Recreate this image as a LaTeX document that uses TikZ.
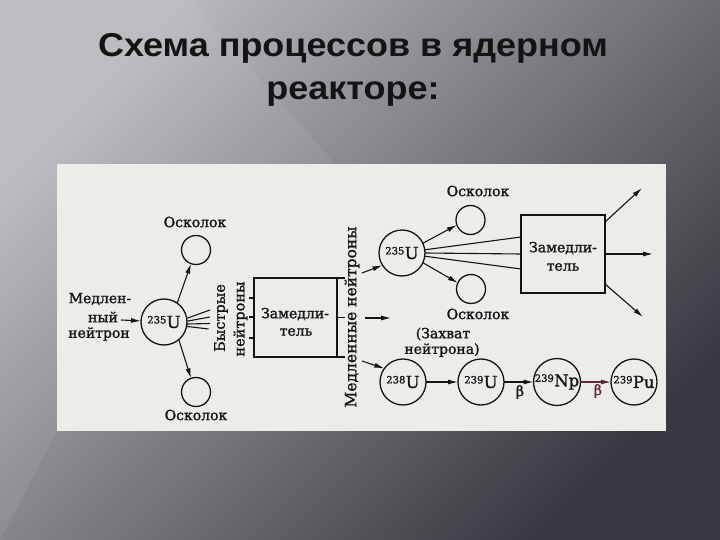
\documentclass[tikz,border=0pt]{standalone}
\usepackage{fontspec}
\setmainfont{DejaVu Serif}
\newfontfamily\titlefont{Liberation Sans}
\newfontfamily\dfont[FakeBold=1.4]{DejaVu Serif}
\usetikzlibrary{arrows.meta}
\definecolor{ink}{HTML}{141414}
\definecolor{panel}{RGB}{236,236,233}
\definecolor{bgA}{RGB}{184,184,190}
\definecolor{bgB}{RGB}{56,56,64}
\definecolor{redink}{RGB}{95,40,50}
\newcommand\isot[2]{\raisebox{4.5pt}{\fontsize{10}{10}\selectfont #1}\kern0.3pt{\fontsize{16.5}{16}\selectfont #2}}
\begin{document}
\begin{tikzpicture}[x=1pt,y=-1pt,
  every node/.style={inner sep=0pt, outer sep=0pt},
  ttl/.style={font=\titlefont\bfseries\fontsize{33}{33}\selectfont, text=ink, anchor=base},
  lbl/.style={font=\dfont\fontsize{14}{16}\selectfont, text=ink},
  rlbl/.style={lbl, rotate=90},
  nuc/.style={circle, draw=ink, line width=1.3pt, minimum size=46pt, font=\dfont, text=ink},
  frag/.style={circle, draw=ink, line width=1.3pt, minimum size=29pt},
  ln/.style={draw=ink, line width=1.1pt},
  arr/.style={ln, -{Latex[length=10pt,width=5pt]}},
]
\useasboundingbox (0,0) rectangle (720,540);
% background
\shade[top color=bgA, bottom color=bgB, shading angle=45] (0,0) rectangle (720,540);
\fill[white, opacity=0.06] (0,0) -- (190,0) -- (335,164) -- (57,431) -- (0,540) -- cycle;
% title
\node[ttl] (t1) at (353,57) {\scalebox{1.09}[1]{Схема процессов в ядерном}};
\node[ttl] (t2) at (353,100) {\scalebox{1.09}[1]{реакторе:}};
% panel
\fill[panel] (57,164) rectangle (666,431);

% ---- left fission
\node[nuc] (U1) at (164,322) {\isot{235}{U}};
\node[frag] (F1t) at (196,250) {};
\node[frag] (F1b) at (196,392) {};
\node[lbl] (L1t) at (195,222) {Осколок};
\node[lbl] (L1b) at (196,415) {Осколок};
\node[lbl] (Lm1) at (100,299) {Медлен-};
\node[lbl] (Lm2) at (103,317) {ный};
\node[lbl] (Lm3) at (99,334) {нейтрон};
\coordinate (in1) at (121,320);
\draw[arr] (in1) -- (U1);
\draw[arr] (U1.55) -- (F1t.250);
\draw[arr] (U1.-50) -- (F1b.110);
\coordinate (f1) at (210,310);
\coordinate (f2) at (210,317);
\coordinate (f3) at (210,323.5);
\coordinate (f4) at (208.5,329);
\draw[ln] (U1.9) -- (f1);
\draw[ln] (U1.2) -- (f2);
\draw[ln] (U1.-5) -- (f3);
\draw[ln] (U1.-11) -- (f4);
\node[rlbl, font=\dfont\fontsize{14.5}{16}\selectfont] (Lf1) at (221,318) {Быстрые};
\node[rlbl, font=\dfont\fontsize{14.5}{16}\selectfont] (Lf2) at (240.5,319) {нейтроны};

% ---- left moderator
\node[draw=ink, line width=1.3pt, minimum width=83pt, minimum height=79pt] (B1) at (295.5,317.5) {};
\node[lbl] (B1a) at (295,314) {Замедли-};
\node[lbl] (B1b) at (296,332) {тель};
\coordinate (k1) at (249,298);
\coordinate (k2) at (249,317);
\coordinate (k3) at (249,338);
\draw[ln] (k1) -- (k1 -| B1.west);
\draw[ln] (k2) -- (k2 -| B1.west);
\draw[ln] (k3) -- (k3 -| B1.west);
\draw[ln] (B1.north east) -- ++(8,0);
\draw[ln] (B1.east) -- ++(8,0);
\draw[ln] (B1.south east) -- ++(8,0);
\node[rlbl, font=\dfont\fontsize{15.5}{16}\selectfont] (Ls) at (352,317) {Медленные нейтроны};

% ---- right fission
\node[nuc] (U2) at (402,253) {\isot{235}{U}};
\node[frag] (F2t) at (470.5,220) {};
\node[frag] (F2b) at (471,289) {};
\node[lbl] (L2t) at (478,191) {Осколок};
\node[lbl] (L2b) at (478,314) {Осколок};
\coordinate (s1) at (362,273);
\draw[arr] (s1) -- (U2.212);
\coordinate (s2a) at (365,318);
\coordinate (s2b) at (391,318);
\draw[arr] (s2a) -- (s2b);
\draw[arr] (U2.25) -- (F2t.200);
\draw[arr] (U2.-25) -- (F2b.155);

\node[draw=ink, line width=1.3pt, minimum width=84pt, minimum height=78pt] (B2) at (563,254) {};
\node[lbl] (B2a) at (563,248) {Замедли-};
\node[lbl] (B2b) at (563,267) {тель};
\coordinate (e1) at (521,237);
\coordinate (e3) at (521,269);
\draw[ln] (U2.8) -- (e1);
\draw[ln] (U2.0) -- (B2.west);
\draw[ln] (U2.-8) -- (e3);
\coordinate (o1a) at (605,222);
\coordinate (o1b) at (642,188);
\coordinate (o2b) at (653,254);
\coordinate (o3a) at (605,284);
\coordinate (o3b) at (643,317);
\draw[arr] (o1a) -- (o1b);
\draw[arr] (B2.east) -- (o2b);
\draw[arr] (o3a) -- (o3b);

% ---- capture chain
\node[lbl] (Lc1) at (443,334) {(Захват};
\node[lbl] (Lc2) at (442,350) {нейтрона)};
\node[nuc] (C238) at (403,382) {\isot{238}{U}};
\node[nuc] (C239) at (481,382) {\isot{239}{U}};
\node[nuc] (CNp) at (557,382) {\isot{239}{Np}};
\node[nuc] (CPu) at (634,382) {\isot{239}{Pu}};
\coordinate (s3) at (362,361);
\draw[arr] (s3) -- (C238.144);
\draw[arr] (C238) -- (C239);
\draw[arr] (C239) -- (CNp);
\draw[arr, draw=redink, fill=redink] (CNp) -- (CPu);
\node[lbl, font=\dfont\fontsize{14}{14}\selectfont] (Lb1) at (520,392) {β};
\node[lbl, font=\dfont\fontsize{14}{14}\selectfont, text=redink] (Lb2) at (598,391) {β};
\end{tikzpicture}
\end{document}
